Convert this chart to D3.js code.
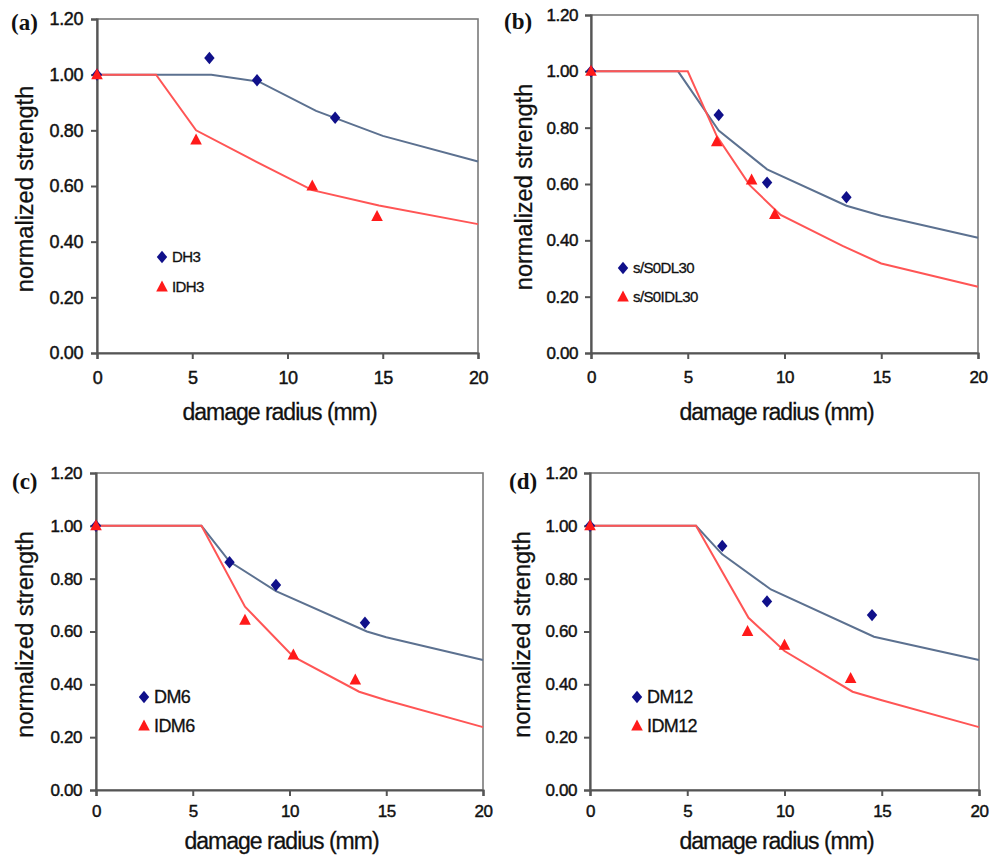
<!DOCTYPE html>
<html><head><meta charset="utf-8">
<script src="https://cdn.jsdelivr.net/npm/d3@7"></script>
<style>body{margin:0;background:#fff}svg{display:block}</style>
</head><body>
<svg id="chart" width="1002" height="856"></svg>
<script>
// ---- data ----
const xTicks = [0, 5, 10, 15, 20];
const yTicks = [0, 0.2, 0.4, 0.6, 0.8, 1.0, 1.2];
const yTickLabels = ["0.00", "0.20", "0.40", "0.60", "0.80", "1.00", "1.20"];
const xTitle = "damage radius (mm)";
const yTitle = "normalized strength";

// panel (a)
const aLabel = "(a)";
const aSeries = ["DH3", "IDH3"];
const aDiamondX = [0, 5.9, 8.4, 12.5];
const aDiamondY = [1.00, 1.06, 0.98, 0.845];
const aTriangleX = [0, 5.2, 11.3, 14.7];
const aTriangleY = [1.00, 0.765, 0.60, 0.49];
const aBlueLineX = [0, 6.0, 8.5, 11.5, 15, 20];
const aBlueLineY = [1.00, 1.00, 0.975, 0.87, 0.78, 0.688];
const aRedLineX = [0, 3.1, 5.2, 8.0, 11.3, 14.8, 20];
const aRedLineY = [1.00, 1.00, 0.80, 0.70, 0.585, 0.53, 0.463];

// panel (b)
const bLabel = "(b)";
const bSeries = ["s/S0DL30", "s/S0IDL30"];
const bDiamondX = [0, 6.6, 9.1, 13.2];
const bDiamondY = [1.00, 0.845, 0.605, 0.553];
const bTriangleX = [0, 6.5, 8.3, 9.5];
const bTriangleY = [1.00, 0.75, 0.614, 0.492];
const bBlueLineX = [0, 4.5, 6.6, 9.1, 13.2, 15, 20];
const bBlueLineY = [1.00, 1.00, 0.79, 0.652, 0.523, 0.487, 0.409];
const bRedLineX = [0, 5.0, 6.5, 8.2, 9.8, 13.0, 15, 20];
const bRedLineY = [1.00, 1.00, 0.77, 0.596, 0.49, 0.38, 0.318, 0.235];

// panel (c)
const cLabel = "(c)";
const cSeries = ["DM6", "IDM6"];
const cDiamondX = [0, 6.9, 9.3, 13.9];
const cDiamondY = [1.00, 0.862, 0.776, 0.633];
const cTriangleX = [0, 7.7, 10.2, 13.4];
const cTriangleY = [1.00, 0.643, 0.511, 0.416];
const cBlueLineX = [0, 5.45, 6.9, 9.3, 14.0, 15, 20];
const cBlueLineY = [1.00, 1.00, 0.865, 0.753, 0.60, 0.578, 0.492];
const cRedLineX = [0, 5.45, 7.7, 10.2, 13.6, 15, 20];
const cRedLineY = [1.00, 1.00, 0.694, 0.505, 0.372, 0.34, 0.238];

// panel (d)
const dLabel = "(d)";
const dSeries = ["DM12", "IDM12"];
const dDiamondX = [0, 6.8, 9.1, 14.5];
const dDiamondY = [1.00, 0.924, 0.714, 0.662];
const dTriangleX = [0, 8.1, 10.0, 13.4];
const dTriangleY = [1.00, 0.60, 0.548, 0.422];
const dBlueLineX = [0, 5.45, 6.8, 9.3, 14.6, 20];
const dBlueLineY = [1.00, 1.00, 0.892, 0.759, 0.58, 0.492];
const dRedLineX = [0, 5.45, 8.15, 10.0, 13.5, 15, 20];
const dRedLineY = [1.00, 1.00, 0.652, 0.526, 0.372, 0.34, 0.238];

// ---- drawing ----
const svg = d3.select("#chart");
const BLUE_MARK = "#10108a", BLUE_LINE = "#5c7190", RED_MARK = "#ff1a1a", RED_LINE = "#ff5555";
const AXIS = "#555";
const SANS = "'Liberation Sans', Arial, sans-serif";

function zip(xs, ys) { return xs.map((x, i) => [x, ys[i]]); }

const diamondPath = "M0,-6.2L5.2,0L0,6.2L-5.2,0Z";
const trianglePath = "M0,-6.5L5.8,4.5L-5.8,4.5Z";

function drawPanel(p) {
  const x = d3.scaleLinear().domain([0, 20]).range([p.left, p.right]);
  const y = d3.scaleLinear().domain([0, 1.2]).range([p.bottom, p.top]);
  const g = svg.append("g");

  // frame
  g.append("rect").attr("x", p.left).attr("y", p.top)
    .attr("width", p.right - p.left).attr("height", p.bottom - p.top)
    .attr("fill", "none").attr("stroke", "#7a7a7a").attr("stroke-width", 1.6);

  // axes
  const yAxis = d3.axisLeft(y).tickValues(yTicks).tickFormat((d, i) => yTickLabels[i]).tickSize(6).tickPadding(p.yPad);
  const xAxis = d3.axisBottom(x).tickValues(xTicks).tickFormat(d3.format("d")).tickSize(6).tickPadding(p.xPad);
  const ya = g.append("g").attr("transform", `translate(${p.left},0)`).call(yAxis);
  const xa = g.append("g").attr("transform", `translate(0,${p.bottom})`).call(xAxis);
  [ya, xa].forEach(a => {
    a.select(".domain").attr("stroke", AXIS).attr("stroke-width", 2.2);
    a.selectAll(".tick line").attr("stroke", AXIS).attr("stroke-width", 2);
    a.selectAll(".tick text").attr("fill", "#111").attr("stroke", "#111").attr("stroke-width", 0.45)
      .style("font-family", SANS)
      .style("font-size", p.tickFont + "px").style("letter-spacing", "-0.4px");
  });

  // axis titles
  g.append("text").attr("x", (p.left + p.right) / 2 - 8).attr("y", p.xTitleY)
    .attr("text-anchor", "middle")
    .style("font-family", SANS).attr("stroke", "#111").attr("stroke-width", 0.3)
    .style("font-size", "23px").style("letter-spacing", "-1px").attr("fill", "#111")
    .text(xTitle);
  g.append("text")
    .attr("transform", `translate(${p.yTitleX},${(p.top + p.bottom) / 2 + 3}) rotate(-90)`)
    .attr("text-anchor", "middle")
    .style("font-family", SANS).attr("stroke", "#111").attr("stroke-width", 0.3)
    .style("font-size", "23.5px").attr("fill", "#111")
    .text(yTitle);

  // panel label
  g.append("text").attr("x", p.labelX).attr("y", p.labelY)
    .style("font-family", "'Liberation Serif', 'Times New Roman', serif")
    .style("font-weight", "bold").style("font-size", "23px").attr("fill", "#111")
    .text(p.label);

  // lines
  const line = d3.line().x(d => x(d[0])).y(d => y(d[1]));
  g.append("path").datum(zip(p.blueX, p.blueY)).attr("d", line)
    .attr("fill", "none").attr("stroke", BLUE_LINE).attr("stroke-width", 2);
  g.append("path").datum(zip(p.redX, p.redY)).attr("d", line)
    .attr("fill", "none").attr("stroke", RED_LINE).attr("stroke-width", 2);

  // markers
  g.selectAll(".dia").data(zip(p.diaX, p.diaY)).join("path")
    .attr("d", diamondPath).attr("fill", BLUE_MARK)
    .attr("transform", d => `translate(${x(d[0])},${y(d[1])})`);
  g.selectAll(".tri").data(zip(p.triX, p.triY)).join("path")
    .attr("d", trianglePath).attr("fill", RED_MARK)
    .attr("transform", d => `translate(${x(d[0])},${y(d[1])})`);

  // legend
  const lg = g.append("g");
  lg.append("path").attr("d", diamondPath).attr("fill", BLUE_MARK)
    .attr("transform", `translate(${p.legX},${p.legY})`);
  lg.append("path").attr("d", trianglePath).attr("fill", RED_MARK)
    .attr("transform", `translate(${p.legX},${p.legY + p.legGap})`);
  [0, 1].forEach(i => {
    lg.append("text").attr("x", p.legX + 10).attr("y", p.legY + i * p.legGap)
      .attr("dy", "0.36em").attr("stroke", "#111").attr("stroke-width", 0.3)
      .style("font-family", SANS)
      .style("font-size", p.legFont + "px").style("letter-spacing", "-0.6px").attr("fill", "#111")
      .text(p.series[i]);
  });
}

drawPanel({left: 97, right: 478, top: 19, bottom: 353, yPad: 8, xPad: 12, tickFont: 18,
  xTitleY: 420, yTitleX: 33, labelX: 11, labelY: 30, label: aLabel, series: aSeries,
  diaX: aDiamondX, diaY: aDiamondY, triX: aTriangleX, triY: aTriangleY,
  blueX: aBlueLineX, blueY: aBlueLineY, redX: aRedLineX, redY: aRedLineY,
  legX: 162, legY: 257, legGap: 30, legFont: 15});
drawPanel({left: 591, right: 978, top: 15, bottom: 353, yPad: 7, xPad: 12, tickFont: 17,
  xTitleY: 420, yTitleX: 532, labelX: 504, labelY: 29, label: bLabel, series: bSeries,
  diaX: bDiamondX, diaY: bDiamondY, triX: bTriangleX, triY: bTriangleY,
  blueX: bBlueLineX, blueY: bBlueLineY, redX: bRedLineX, redY: bRedLineY,
  legX: 623, legY: 268, legGap: 29, legFont: 15});
drawPanel({left: 96, right: 483, top: 473, bottom: 790, yPad: 8, xPad: 9, tickFont: 17,
  xTitleY: 849, yTitleX: 33, labelX: 12, labelY: 489, label: cLabel, series: cSeries,
  diaX: cDiamondX, diaY: cDiamondY, triX: cTriangleX, triY: cTriangleY,
  blueX: cBlueLineX, blueY: cBlueLineY, redX: cRedLineX, redY: cRedLineY,
  legX: 144, legY: 697, legGap: 29, legFont: 18});
drawPanel({left: 590, right: 979, top: 473, bottom: 790, yPad: 7, xPad: 9, tickFont: 17,
  xTitleY: 849, yTitleX: 530, labelX: 509, labelY: 489, label: dLabel, series: dSeries,
  diaX: dDiamondX, diaY: dDiamondY, triX: dTriangleX, triY: dTriangleY,
  blueX: dBlueLineX, blueY: dBlueLineY, redX: dRedLineX, redY: dRedLineY,
  legX: 637, legY: 697, legGap: 29, legFont: 18});
</script>
</body></html>
